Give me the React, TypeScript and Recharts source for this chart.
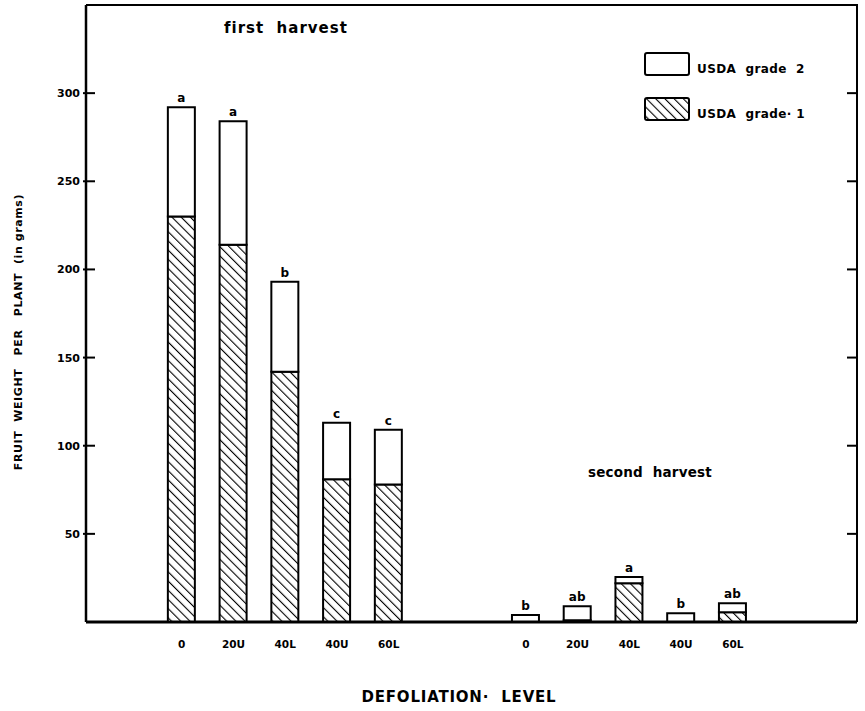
import { ComposedChart, Bar, Line, XAxis, YAxis, LabelList } from "recharts";

const levels = ["0", "20U", "40L", "40U", "60L"];
const firstSlots = [0, 1, 2, 3, 4];
const secondSlots = [6.65, 7.65, 8.65, 9.65, 10.65];
const firstGrade1 = [230, 214, 142, 81, 78];
const firstGrade2 = [62, 70, 51, 32, 31];
const firstLetters = ["a", "a", "b", "c", "c"];
const secondGrade1 = [0, 1, 22, 0, 5.5];
const secondGrade2 = [4, 8, 3.5, 5, 5.2];
const secondLetters = ["b", "ab", "a", "b", "ab"];
const yTicks = [50, 100, 150, 200, 250, 300];
const xDomain = [-1.85, 13.05];
const yDomain = [0, 350];

const FONT = "'DejaVu Sans', sans-serif";

const rows = [
  ...levels.map((lvl, i) => ({
    slot: firstSlots[i],
    level: lvl,
    grade1: firstGrade1[i],
    grade2: firstGrade2[i],
    letter: firstLetters[i],
  })),
  ...levels.map((lvl, i) => ({
    slot: secondSlots[i],
    level: lvl,
    grade1: secondGrade1[i],
    grade2: secondGrade2[i],
    letter: secondLetters[i],
  })),
];

const slotLabel = (v: number) => {
  const r = rows.find((e) => Math.abs(e.slot - v) < 0.01);
  return r ? r.level : "";
};

const LeftTick = (props: any) => {
  const { x, y, payload } = props;
  return (
    <g>
      <line x1={x - 3} x2={x + 9} y1={y} y2={y} stroke="#000" strokeWidth={2} />
      <text x={x - 6} y={y} dy={4} textAnchor="end" fontFamily={FONT} fontWeight="bold" fontSize={11} fill="#000">
        {payload.value}
      </text>
    </g>
  );
};

const RightTick = (props: any) => {
  const { x, y } = props;
  return <line x1={x - 10} x2={x} y1={y} y2={y} stroke="#000" strokeWidth={2} />;
};

const Swatch = ({ hatched }: { hatched: boolean }) => (
  <svg width={46} height={24} style={{ display: "block" }}>
    <defs>
      <pattern id="legendHatch" patternUnits="userSpaceOnUse" width={6.5} height={6.5} patternTransform="rotate(-45)">
        <line x1={0} y1={0} x2={0} y2={6.5} stroke="#000" strokeWidth={2.2} />
      </pattern>
    </defs>
    <rect x={1} y={1} width={44} height={22} rx={2} fill={hatched ? "url(#legendHatch)" : "#fff"} stroke="#000" strokeWidth={2} />
  </svg>
);

const textStyle: React.CSSProperties = {
  position: "absolute",
  fontFamily: FONT,
  fontWeight: "bold",
  color: "#000",
  whiteSpace: "pre",
  lineHeight: 1,
};

const legendItems = [
  { name: "USDA  grade  2", hatched: false },
  { name: "USDA  grade· 1", hatched: true },
];

export default function App() {
  return (
    <div style={{ position: "absolute", left: 0, top: 0, width: 865, height: 711, overflow: "hidden", background: "#fff" }}>
      <ComposedChart
        width={865}
        height={711}
        data={rows}
        margin={{ top: 5, right: 7, left: 0, bottom: 59 }}
        barSize={27}
      >
        <defs>
          <pattern id="hatch" patternUnits="userSpaceOnUse" width={6.5} height={6.5} patternTransform="rotate(-45)">
            <line x1={0} y1={0} x2={0} y2={6.5} stroke="#000" strokeWidth={2.2} />
          </pattern>
        </defs>
        <XAxis
          dataKey="slot"
          type="number"
          domain={xDomain}
          allowDataOverflow
          ticks={rows.map((r) => r.slot)}
          tickFormatter={slotLabel}
          interval={0}
          height={30}
          tickLine={false}
          axisLine={{ stroke: "#000", strokeWidth: 3 }}
          tick={{ fill: "#000", fontFamily: FONT, fontWeight: "bold", fontSize: 10.5 }}
          tickMargin={13}
        />
        <YAxis
          domain={yDomain}
          allowDataOverflow
          ticks={yTicks}
          width={86}
          tickSize={0}
          tickMargin={0}
          tickLine={false}
          tick={<LeftTick />}
          axisLine={{ stroke: "#000", strokeWidth: 2.5 }}
        />
        <YAxis
          yAxisId="right"
          orientation="right"
          domain={yDomain}
          allowDataOverflow
          ticks={yTicks}
          width={1}
          tickSize={0}
          tickMargin={0}
          tickLine={false}
          tick={<RightTick />}
          axisLine={{ stroke: "#000", strokeWidth: 2 }}
        />
        <Bar dataKey="grade1" stackId="s" name="USDA grade 1" fill="url(#hatch)" stroke="#000" strokeWidth={2} isAnimationActive={false} />
        <Bar dataKey="grade2" stackId="s" name="USDA grade 2" fill="#fff" stroke="#000" strokeWidth={2} isAnimationActive={false}>
          <LabelList dataKey="letter" position="top" offset={5} fill="#000" fontFamily={FONT} fontWeight="bold" fontSize={12} />
        </Bar>
        {/* invisible series so the right-hand tick axis gets drawn */}
        <Line
          yAxisId="right"
          dataKey="grade1"
          stroke="none"
          dot={false}
          activeDot={false}
          legendType="none"
          isAnimationActive={false}
        />
      </ComposedChart>
      {/* frame: top and right border of the plot box */}
      <div
        style={{
          position: "absolute",
          left: 86,
          top: 4,
          width: 772,
          height: 618,
          boxSizing: "border-box",
          borderTop: "2px solid #000",
          borderRight: "2px solid #000",
          pointerEvents: "none",
        }}
      />
      <div style={{ position: "absolute", left: 644, top: 52, fontFamily: FONT, fontWeight: "bold", fontSize: 12, color: "#000" }}>
        {legendItems.map((it, i) => (
          <div key={i} style={{ display: "flex", alignItems: "center", height: 24, marginBottom: i === 0 ? 21 : 0 }}>
            <Swatch hatched={it.hatched} />
            <span style={{ marginLeft: 7, marginTop: 9, whiteSpace: "pre", letterSpacing: 0.4 }}>{it.name}</span>
          </div>
        ))}
      </div>
      <div style={{ ...textStyle, left: 224, top: 21, fontSize: 15, letterSpacing: 1 }}>first  harvest</div>
      <div style={{ ...textStyle, left: 588, top: 466, fontSize: 13.5, letterSpacing: 0.2 }}>second  harvest</div>
      <div style={{ ...textStyle, left: 459, top: 690, fontSize: 15, letterSpacing: 0.8, transform: "translateX(-50%)" }}>
        DEFOLIATION·  LEVEL
      </div>
      <div
        style={{
          ...textStyle,
          left: 18,
          top: 332,
          fontSize: 11,
          letterSpacing: 0.6,
          transform: "translate(-50%, -50%) rotate(-90deg)",
        }}
      >
        FRUIT  WEIGHT   PER   PLANT  (in grams)
      </div>
    </div>
  );
}
